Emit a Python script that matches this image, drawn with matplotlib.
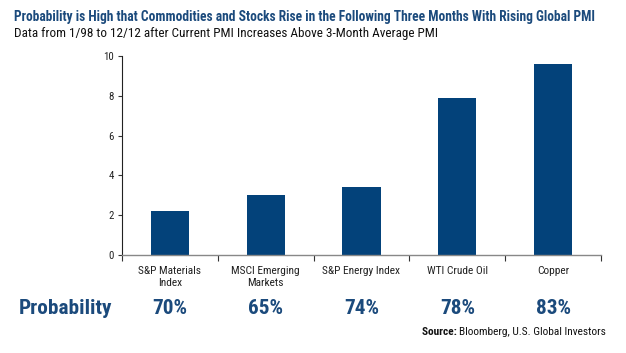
import matplotlib
matplotlib.use("Agg")
import matplotlib.pyplot as plt
from matplotlib import font_manager

categories = ["S&P Materials\nIndex", "MSCI Emerging\nMarkets", "S&P Energy Index", "WTI Crude Oil", "Copper"]
values = [2.2, 3.0, 3.4, 7.9, 9.6]
probabilities = ["70%", "65%", "74%", "78%", "83%"]
yticks = [0, 2, 4, 6, 8, 10]

title = "Probability is High that Commodities and Stocks Rise in the Following Three Months With Rising Global PMI"
subtitle = "Data from 1/98 to 12/12 after Current PMI Increases Above 3-Month Average PMI"

def pick_font(names):
    for n in names:
        try:
            font_manager.findfont(font_manager.FontProperties(family=n), fallback_to_default=False)
            return n
        except Exception:
            pass
    return "DejaVu Sans"

FONT = pick_font(["Liberation Sans Narrow", "Roboto Condensed", "Liberation Sans"])
plt.rcParams['font.family'] = [FONT, 'DejaVu Sans']

W, H = 626, 353
fig = plt.figure(figsize=(W / 100, H / 100), dpi=100)
fig.patch.set_facecolor("white")

def fx(px):
    return px / W

def fy(py):
    return 1 - py / H

left, right, top, bottom = 122, 601, 56, 255
ax = fig.add_axes([fx(left), fy(bottom), fx(right - left), (bottom - top) / H])

bar_color = "#03427a"
title_color = "#1b4a7c"
x = list(range(len(categories)))
ax.bar(x, values, width=0.4, color=bar_color, edgecolor="none", zorder=2)

ax.set_xlim(-0.5, len(categories) - 0.5)
ax.set_ylim(0, 10)
ax.set_yticks(yticks)
ax.set_yticklabels([str(v) for v in yticks], fontsize=7.8, color="#222222")
ax.set_xticks([i - 0.5 for i in range(len(categories) + 1)])
ax.set_xticklabels([])
ax.set_xticks(x, minor=True)
ax.set_xticklabels(categories, minor=True, fontsize=8.2, color="#222222", linespacing=1.2)
ax.tick_params(axis="x", which="minor", length=0, pad=8)
ax.tick_params(axis="x", which="major", length=4, width=0.8, color="#333333", direction="out")
ax.tick_params(axis="y", length=3, width=0.8, color="#333333", direction="out", pad=3)
for s in ["top", "right"]:
    ax.spines[s].set_visible(False)
ax.spines["left"].set_color("#222222")
ax.spines["left"].set_linewidth(0.8)
ax.spines["bottom"].set_color("#888888")
ax.spines["bottom"].set_linewidth(1.0)

fig.text(fx(14), fy(17), title, fontsize=9.75, fontweight="bold", color=title_color,
         ha="left", va="center")
fig.text(fx(14), fy(33), subtitle, fontsize=9.5, color="#111111", ha="left", va="center")

fig.text(fx(19), fy(308), "Probability", fontsize=15.3, fontweight="bold", color=title_color,
         ha="left", va="center")
for i, p in enumerate(probabilities):
    xd = ax.transData.transform((i, 0))[0]
    xf = fig.transFigure.inverted().transform((xd, 0))[0]
    fig.text(xf, fy(308), p, fontsize=15.3, fontweight="bold", color=title_color,
             ha="center", va="center")

src = fig.text(fx(606), fy(332), "Bloomberg, U.S. Global Investors", fontsize=8.2,
               color="#111111", ha="right", va="center")
fig.canvas.draw()
bb = src.get_window_extent()
fig.text(bb.x0 / (W), fy(332), "Source: ", fontsize=8.2, fontweight="bold",
         color="#111111", ha="right", va="center")

fig.savefig("out.png", dpi=100, facecolor="white")
